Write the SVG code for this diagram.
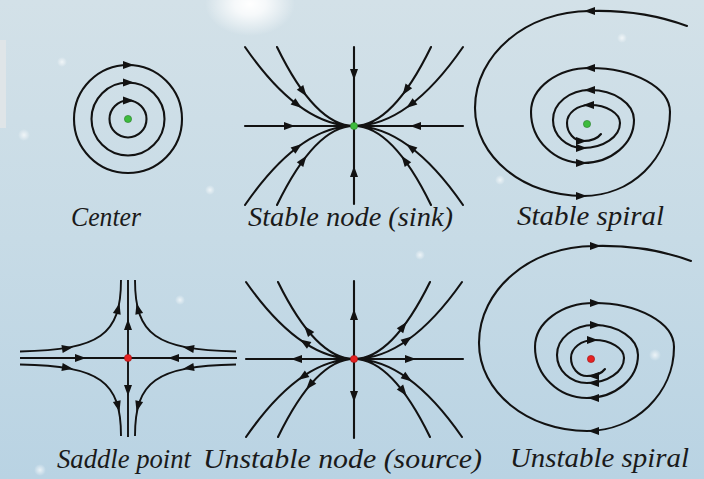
<svg xmlns="http://www.w3.org/2000/svg" xmlns:xlink="http://www.w3.org/1999/xlink" width="704" height="479" viewBox="0 0 704 479">
<defs>
<linearGradient id="bg" x1="0" y1="0" x2="0" y2="1">
<stop offset="0" stop-color="#d3e1e8"/>
<stop offset="0.5" stop-color="#c7dbe6"/>
<stop offset="1" stop-color="#b9d3e3"/>
</linearGradient>
<radialGradient id="glow" cx="0.5" cy="0.5" r="0.5">
<stop offset="0" stop-color="#ffffff" stop-opacity="1"/>
<stop offset="0.35" stop-color="#ffffff" stop-opacity="0.8"/>
<stop offset="1" stop-color="#ffffff" stop-opacity="0"/>
</radialGradient>
<radialGradient id="spark" cx="0.5" cy="0.5" r="0.5">
<stop offset="0" stop-color="#ffffff" stop-opacity="0.7"/>
<stop offset="1" stop-color="#ffffff" stop-opacity="0"/>
</radialGradient>
<path id="ah" d="M6,0 L-5,-4 L-5,4 Z"/>
<path id="sp" d="M687,26 C660,16 625,10 590,11 C526.5,11 475,54.5 475,108 C475,156.6 523.4,196 583,196 C631,196 670,158.4 670,112 C670,87.7 634,68 590,68 C557.4,68 531,87.7 531,112 C531,140.2 554.3,163 583,163 C611.2,163 634,143.7 634,120 C634,103.4 614.3,90 590,90 C569.6,90 553,103.4 553,120 C553,135.5 566.4,148 583,148 C603.4,148 620,136.8 620,123 C620,113.1 606.6,105 590,105 C577.3,105 567,113.1 567,123 C567,132.9 574.2,141 583,141 C592,141 598,138 601,134"/>
</defs>
<style>
.ln{fill:none;stroke:#121212;stroke-width:2.1;stroke-linecap:round}
.thin{fill:none;stroke:#121212;stroke-width:1.9}
.hd{fill:#121212}
.g{fill:#3dbb3d;stroke:#2a7a2a;stroke-width:0.6}
.r{fill:#e52222;stroke:#a01010;stroke-width:0.6}
</style>
<rect x="0" y="0" width="704" height="479" fill="url(#bg)"/>
<ellipse cx="250" cy="4" rx="45" ry="32" fill="url(#glow)"/>
<rect x="0" y="40" width="6" height="88" fill="#dfe5e8"/>
<g id="sparkles">
<circle cx="62" cy="62" r="5" fill="url(#spark)"/>
<circle cx="24" cy="135" r="6" fill="url(#spark)"/>
<circle cx="500" cy="180" r="5" fill="url(#spark)"/>
<circle cx="622" cy="38" r="5" fill="url(#spark)"/>
<circle cx="655" cy="355" r="6" fill="url(#spark)"/>
<circle cx="210" cy="190" r="5" fill="url(#spark)"/>
<circle cx="40" cy="470" r="6" fill="url(#spark)"/>
<circle cx="420" cy="255" r="5" fill="url(#spark)"/>
<circle cx="180" cy="300" r="5" fill="url(#spark)"/>
</g>
<g id="center">
<circle class="ln" cx="128" cy="119" r="18.5"/>
<circle class="ln" cx="128" cy="119" r="36.5"/>
<circle class="ln" cx="128" cy="119" r="54"/>
<use href="#ah" class="hd" transform="translate(128,100.5)"/>
<use href="#ah" class="hd" transform="translate(128,82.5)"/>
<use href="#ah" class="hd" transform="translate(128,65)"/>
<circle class="g" cx="128" cy="119" r="3.6"/>
</g>
<g id="stable-node">
<path class="ln" d="M245,126 H463 M354,47 V204"/>
<path class="ln" d="M245,47 Q299.5,126 354,126 M277,47 Q315.5,126 354,126 M431,47 Q392.5,126 354,126 M463,47 Q408.5,126 354,126 M245,205 Q299.5,126 354,126 M277,205 Q315.5,126 354,126 M431,205 Q392.5,126 354,126 M463,205 Q408.5,126 354,126"/>
<use href="#ah" class="hd" transform="translate(289,126)"/>
<use href="#ah" class="hd" transform="translate(416,126) rotate(180)"/>
<use href="#ah" class="hd" transform="translate(354,74) rotate(90)"/>
<use href="#ah" class="hd" transform="translate(354,172) rotate(-90)"/>
<use href="#ah" class="hd" transform="translate(297,104.4) rotate(37)"/>
<use href="#ah" class="hd" transform="translate(303,91.4) rotate(53.6)"/>
<use href="#ah" class="hd" transform="translate(406,90) rotate(125)"/>
<use href="#ah" class="hd" transform="translate(411,104.4) rotate(143)"/>
<use href="#ah" class="hd" transform="translate(297,147.6) rotate(-37)"/>
<use href="#ah" class="hd" transform="translate(303,160.6) rotate(-53.6)"/>
<use href="#ah" class="hd" transform="translate(405,160.6) rotate(-126.4)"/>
<use href="#ah" class="hd" transform="translate(411,147.6) rotate(-143)"/>
<circle class="g" cx="354" cy="126" r="3.6"/>
</g>
<g id="stable-spiral">
<use href="#sp" class="ln"/>
<use href="#ah" class="hd" transform="translate(590,11) rotate(180)"/>
<use href="#ah" class="hd" transform="translate(590,68) rotate(180)"/>
<use href="#ah" class="hd" transform="translate(590,90) rotate(180)"/>
<use href="#ah" class="hd" transform="translate(589,105) rotate(180)"/>
<use href="#ah" class="hd" transform="translate(581,196)"/>
<use href="#ah" class="hd" transform="translate(581,163)"/>
<use href="#ah" class="hd" transform="translate(581,148)"/>
<use href="#ah" class="hd" transform="translate(581,141)"/>
<circle class="g" cx="587" cy="124" r="3.6"/>
</g>
<g id="saddle">
<path class="thin" d="M20,358 H237 M128,280 V437"/>
<path class="thin" d="M20,351.5 C100,350 121,335 121,280 M236,351.5 C156,350 135,335 135,280 M20,364.5 C100,366 121,381 121,436 M236,364.5 C156,366 135,381 135,436"/>
<use href="#ah" class="hd" transform="translate(80,358)"/>
<use href="#ah" class="hd" transform="translate(174,358) rotate(180)"/>
<use href="#ah" class="hd" transform="translate(128,325) rotate(-90)"/>
<use href="#ah" class="hd" transform="translate(128,390) rotate(90)"/>
<use href="#ah" class="hd" transform="translate(67,348.2) rotate(-9)"/>
<use href="#ah" class="hd" transform="translate(118,309) rotate(-76)"/>
<use href="#ah" class="hd" transform="translate(189,348.2) rotate(-171)"/>
<use href="#ah" class="hd" transform="translate(138,309) rotate(-104)"/>
<use href="#ah" class="hd" transform="translate(67,367.8) rotate(9)"/>
<use href="#ah" class="hd" transform="translate(118,406) rotate(76)"/>
<use href="#ah" class="hd" transform="translate(189,367.8) rotate(171)"/>
<use href="#ah" class="hd" transform="translate(138,406) rotate(104)"/>
<circle class="r" cx="128" cy="358" r="3.6"/>
</g>
<g id="unstable-node">
<path class="ln" d="M246,359 H463 M354,281 V438"/>
<path class="ln" d="M246,282 Q300,359 354,359 M278,282 Q316,359 354,359 M430,282 Q392,359 354,359 M462,282 Q408,359 354,359 M246,437 Q300,359 354,359 M278,437 Q316,359 354,359 M430,437 Q392,359 354,359 M462,437 Q408,359 354,359"/>
<use href="#ah" class="hd" transform="translate(297,359) rotate(180)"/>
<use href="#ah" class="hd" transform="translate(410,359)"/>
<use href="#ah" class="hd" transform="translate(354,315) rotate(-90)"/>
<use href="#ah" class="hd" transform="translate(354,396) rotate(90)"/>
<use href="#ah" class="hd" transform="translate(305,342.7) rotate(-146.5)"/>
<use href="#ah" class="hd" transform="translate(308,330.6) rotate(-129)"/>
<use href="#ah" class="hd" transform="translate(403,326.8) rotate(-52.7)"/>
<use href="#ah" class="hd" transform="translate(407,340) rotate(-35.7)"/>
<use href="#ah" class="hd" transform="translate(303,376.6) rotate(145.4)"/>
<use href="#ah" class="hd" transform="translate(310,385) rotate(130.3)"/>
<use href="#ah" class="hd" transform="translate(407,378) rotate(35.7)"/>
<use href="#ah" class="hd" transform="translate(403,391) rotate(52.7)"/>
<circle class="r" cx="354" cy="359" r="3.6"/>
</g>
<g id="unstable-spiral">
<use href="#sp" class="ln" transform="translate(4,235)"/>
<use href="#ah" class="hd" transform="translate(595,246)"/>
<use href="#ah" class="hd" transform="translate(595,303)"/>
<use href="#ah" class="hd" transform="translate(595,325)"/>
<use href="#ah" class="hd" transform="translate(592,340)"/>
<use href="#ah" class="hd" transform="translate(594,431) rotate(180)"/>
<use href="#ah" class="hd" transform="translate(594,398) rotate(180)"/>
<use href="#ah" class="hd" transform="translate(594,383) rotate(180)"/>
<use href="#ah" class="hd" transform="translate(594,376) rotate(180)"/>
<circle class="r" cx="591" cy="359" r="3.6"/>
</g>
<g id="labels" font-family="Liberation Serif, Times New Roman, serif" font-style="italic" font-size="27" fill="#1a1a1a">
<text x="71" y="226" textLength="70" lengthAdjust="spacingAndGlyphs">Center</text>
<text x="248" y="226" textLength="205" lengthAdjust="spacingAndGlyphs">Stable node (sink)</text>
<text x="517" y="225" textLength="147" lengthAdjust="spacingAndGlyphs">Stable spiral</text>
<text x="57" y="468" textLength="134" lengthAdjust="spacingAndGlyphs">Saddle point</text>
<text x="203" y="468" textLength="279" lengthAdjust="spacingAndGlyphs">Unstable node (source)</text>
<text x="510" y="467" textLength="179" lengthAdjust="spacingAndGlyphs">Unstable spiral</text>
</g>
</svg>
